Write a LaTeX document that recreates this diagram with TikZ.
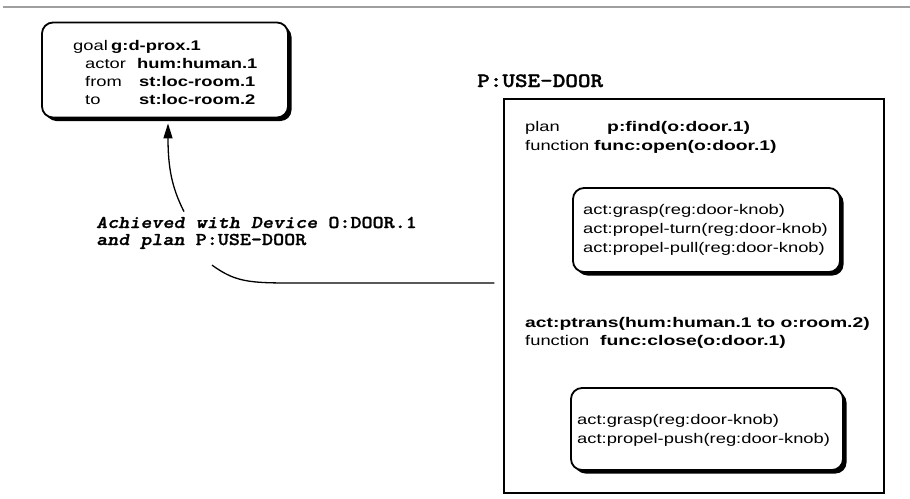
\documentclass[tikz,border=0pt]{standalone}
\usepackage{fontspec}
\usepackage{graphicx}
\setmainfont{Liberation Sans}[FakeStretch=1.31]
\newfontfamily\widebold{Liberation Sans}[FakeStretch=1.38]
\newfontfamily\codefont{lmmonolt10-bold.otf}[ItalicFont=lmmonolt10-boldoblique.otf, FakeBold=1.2]
\usetikzlibrary{shadows,arrows.meta,calc}

\tikzset{
  rbox/.style={draw, line width=1.8pt, rounded corners=11pt, fill=white,
    inner sep=0pt,
    drop shadow={shadow xshift=3.5pt, shadow yshift=-3.5pt, opacity=1, fill=black}},
  frame/.style={draw, line width=1.4pt, inner sep=0pt},
  txt/.style={anchor=base west, inner sep=0pt, font=\fontsize{14}{17}\selectfont},
  btxt/.style={txt, font=\fontsize{14}{17}\selectfont\bfseries},
  wbtxt/.style={txt, font=\fontsize{14}{17}\selectfont\widebold\bfseries},
  code/.style={anchor=base west, inner sep=0pt, font=\fontsize{18}{18}\selectfont\codefont},
  bigcode/.style={code, font=\fontsize{20.5}{20}\selectfont\codefont},
  link/.style={line width=1.3pt},
}

\begin{document}
\begin{tikzpicture}[x=1pt, y=-1pt]
\useasboundingbox (0,0) rectangle (910,498);

% rule across the top
\draw[gray!75, line width=1.6pt] (3,7) -- (910,7);

% goal frame
\node[rbox, minimum width=246pt, minimum height=95pt] (goal) at (165,70) {};
\node[txt]  (goalk)  at (73,50)  {goal};
\node[btxt] (goalv)  at (111,50) {g:d-prox.1};
\node[txt]  (actork) at (85,68)  {actor};
\node[btxt] (actorv) at (137,68) {hum:human.1};
\node[txt]  (fromk)  at (85,86)  {from};
\node[btxt] (fromv)  at (139,86) {st:loc-room.1};
\node[txt]  (tok)    at (85,104) {to};
\node[btxt] (tov)    at (139,104) {st:loc-room.2};

% link label
\node[code] (lbl1) at (96,228) {\scalebox{1.17}[1]{\itshape Achieved with Device \upshape O:DOOR.1}};
\node[code] (lbl2) at (96,245) {\scalebox{1.17}[1]{\itshape and plan \upshape P:USE-DOOR}};

% plan P:USE-DOOR
\node[bigcode] (plantitle) at (477,87) {\scalebox{1.17}[1]{P:USE-DOOR}};
\node[frame, minimum width=380pt, minimum height=394pt] (usedoor) at (694,296) {};

\node[txt]   (plank)  at (525,131) {plan};
\node[wbtxt] (planv)  at (607,131) {p:find(o:door.1)};
\node[txt]   (funk)   at (525,150) {function};
\node[wbtxt] (funv)   at (594,150) {func:open(o:door.1)};

\node[rbox, minimum width=267pt, minimum height=84pt] (openacts) at (706.5,230) {};
\node[txt] (oa1) at (583,214) {act:grasp(reg:door-knob)};
\node[txt] (oa2) at (583,233) {act:propel-turn(reg:door-knob)};
\node[txt] (oa3) at (583,252) {act:propel-pull(reg:door-knob)};

\node[wbtxt] (ptrans) at (525,327) {act:ptrans(hum:human.1 to o:room.2)};
\node[txt]   (funk2)  at (525,345) {function};
\node[wbtxt] (funv2)  at (600,345) {func:close(o:door.1)};

\node[rbox, minimum width=272pt, minimum height=82pt] (closeacts) at (707,429) {};
\node[txt] (ca1) at (577,424) {act:grasp(reg:door-knob)};
\node[txt] (ca2) at (577,443) {act:propel-push(reg:door-knob)};

% connectors
\coordinate (arrowfrom) at ($(lbl1.north west)+(88,-5)$);
\coordinate (arrowto) at ($(goal.south)+(3,5)$);
\draw[link, -{Triangle[length=15pt, width=9pt]}]
  (arrowfrom) .. controls (172,188) and (168,168) .. (arrowto);

\coordinate (curvefrom) at ($(lbl2.south west)+(116,16)$);
\coordinate (curveto) at ($(usedoor.west)+(-9,-13)$);
\draw[link] (curvefrom) .. controls (238,284) and (252,283) .. (310,283) -- (curveto);
\end{tikzpicture}
\end{document}
